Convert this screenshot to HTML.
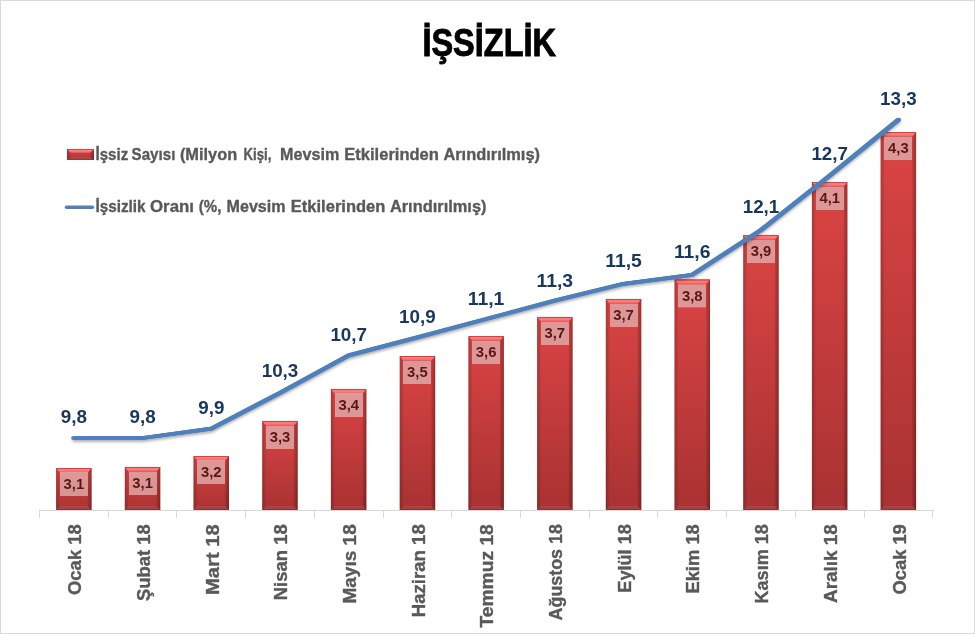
<!DOCTYPE html>
<html lang="tr"><head><meta charset="utf-8"><title>İŞSİZLİK</title>
<style>
html,body{margin:0;padding:0;background:#fff;}
body{width:975px;height:634px;overflow:hidden;font-family:"Liberation Sans",sans-serif;}
svg{display:block;}
text{font-family:"Liberation Sans",sans-serif;font-weight:bold;}
</style></head><body>
<svg width="975" height="634" viewBox="0 0 975 634">
<defs>
<linearGradient id="bg" x1="0" y1="0" x2="0" y2="1"><stop offset="0" stop-color="#DB4444"/><stop offset="1" stop-color="#A93232"/></linearGradient>
<linearGradient id="tg" x1="0" y1="0" x2="0" y2="1"><stop offset="0" stop-color="#DD3939"/><stop offset="0.18" stop-color="#E24444"/><stop offset="0.32" stop-color="#FB8484"/><stop offset="0.6" stop-color="#F77777"/><stop offset="1" stop-color="#E75151"/></linearGradient>
<linearGradient id="lg" x1="0" y1="0" x2="1" y2="0"><stop offset="0" stop-color="#000" stop-opacity="0.2"/><stop offset="1" stop-color="#000" stop-opacity="0.02"/></linearGradient>
<linearGradient id="rg" x1="0" y1="0" x2="1" y2="0"><stop offset="0" stop-color="#000" stop-opacity="0.08"/><stop offset="1" stop-color="#000" stop-opacity="0.3"/></linearGradient>
<linearGradient id="btg" x1="0" y1="0" x2="0" y2="1"><stop offset="0" stop-color="#999" stop-opacity="0.22"/><stop offset="0.7" stop-color="#777" stop-opacity="0.2"/><stop offset="1" stop-color="#300" stop-opacity="0.35"/></linearGradient>
<filter id="sh" x="-5%" y="-5%" width="110%" height="115%"><feGaussianBlur stdDeviation="1.6"/></filter>
</defs>
<rect x="0" y="0" width="975" height="634" fill="#fff"/>
<rect x="0.5" y="0.5" width="974" height="633" fill="none" stroke="#D9D9D9" stroke-width="1"/>
<text x="489.2" y="56.2" font-size="37.9" text-anchor="middle" fill="#000" stroke="#000" stroke-width="0.9" textLength="133.6" lengthAdjust="spacingAndGlyphs">İŞSİZLİK</text>
<rect x="67" y="149" width="27" height="11" fill="url(#bg)"/><polygon points="67,149 94,149 90,153 71,153" fill="url(#tg)"/><polygon points="94,149 94,160 90,157 90,153" fill="url(#rg)"/><polygon points="67,149 67,160 71,157 71,153" fill="url(#lg)"/><polygon points="67,160 94,160 90,157 71,157" fill="url(#btg)"/>
<text y="160" font-size="16.8" fill="#595959" stroke="#595959" stroke-width="0.35"><tspan x="95.5" textLength="32.7" lengthAdjust="spacingAndGlyphs">İşsiz</tspan> <tspan x="131.6" textLength="43.8" lengthAdjust="spacingAndGlyphs">Sayısı</tspan> <tspan x="179.9" textLength="57.3" lengthAdjust="spacingAndGlyphs">(Milyon</tspan> <tspan x="243.6" textLength="27.8" lengthAdjust="spacingAndGlyphs">Kişi,</tspan> <tspan x="280.0" textLength="59.3" lengthAdjust="spacingAndGlyphs">Mevsim</tspan> <tspan x="344.3" textLength="94.6" lengthAdjust="spacingAndGlyphs">Etkilerinden</tspan> <tspan x="443.4" textLength="96.6" lengthAdjust="spacingAndGlyphs">Arındırılmış)</tspan></text>
<line x1="66.5" y1="207.3" x2="92.5" y2="207.3" stroke="#4D80BC" stroke-width="3.4" stroke-linecap="round"/><text y="212" font-size="16.8" fill="#595959" stroke="#595959" stroke-width="0.35"><tspan x="95.5" textLength="50.1" lengthAdjust="spacingAndGlyphs">İşsizlik</tspan> <tspan x="150.0" textLength="44.0" lengthAdjust="spacingAndGlyphs">Oranı</tspan> <tspan x="198.8" textLength="22.6" lengthAdjust="spacingAndGlyphs">(%,</tspan> <tspan x="226.6" textLength="58.9" lengthAdjust="spacingAndGlyphs">Mevsim</tspan> <tspan x="290.8" textLength="94.6" lengthAdjust="spacingAndGlyphs">Etkilerinden</tspan> <tspan x="389.9" textLength="96.6" lengthAdjust="spacingAndGlyphs">Arındırılmış)</tspan></text>
<g stroke="#D9D9D9" stroke-width="1" shape-rendering="crispEdges"><line x1="39" y1="510.5" x2="933.5" y2="510.5"/><line x1="39.5" y1="510.5" x2="39.5" y2="518"/><line x1="108.5" y1="510.5" x2="108.5" y2="518"/><line x1="176.5" y1="510.5" x2="176.5" y2="518"/><line x1="245.5" y1="510.5" x2="245.5" y2="518"/><line x1="314.5" y1="510.5" x2="314.5" y2="518"/><line x1="383.5" y1="510.5" x2="383.5" y2="518"/><line x1="451.5" y1="510.5" x2="451.5" y2="518"/><line x1="520.5" y1="510.5" x2="520.5" y2="518"/><line x1="589.5" y1="510.5" x2="589.5" y2="518"/><line x1="657.5" y1="510.5" x2="657.5" y2="518"/><line x1="726.5" y1="510.5" x2="726.5" y2="518"/><line x1="795.5" y1="510.5" x2="795.5" y2="518"/><line x1="864.5" y1="510.5" x2="864.5" y2="518"/><line x1="932.5" y1="510.5" x2="932.5" y2="518"/></g>
<g><rect x="56.1" y="468.0" width="35.5" height="42.0" fill="url(#bg)"/><polygon points="56.1,468.0 91.6,468.0 87.6,473.0 60.1,473.0" fill="url(#tg)"/><polygon points="91.6,468.0 91.6,510.0 87.6,506.0 87.6,473.0" fill="url(#rg)"/><polygon points="56.1,468.0 56.1,510.0 60.1,506.0 60.1,473.0" fill="url(#lg)"/><polygon points="56.1,510.0 91.6,510.0 87.6,506.0 60.1,506.0" fill="url(#btg)"/><rect x="60.0" y="472.0" width="28" height="24" fill="#DEACAC" fill-opacity="0.8"/><text x="73.9" y="489.3" font-size="14" text-anchor="middle" fill="#5A1616" textLength="20.6" lengthAdjust="spacingAndGlyphs">3,1</text></g>
<g><rect x="124.8" y="467.0" width="35.5" height="43.0" fill="url(#bg)"/><polygon points="124.8,467.0 160.3,467.0 156.3,472.0 128.8,472.0" fill="url(#tg)"/><polygon points="160.3,467.0 160.3,510.0 156.3,506.0 156.3,472.0" fill="url(#rg)"/><polygon points="124.8,467.0 124.8,510.0 128.8,506.0 128.8,472.0" fill="url(#lg)"/><polygon points="124.8,510.0 160.3,510.0 156.3,506.0 128.8,506.0" fill="url(#btg)"/><rect x="129.0" y="472.0" width="28" height="23" fill="#DEACAC" fill-opacity="0.8"/><text x="142.6" y="488.3" font-size="14" text-anchor="middle" fill="#5A1616" textLength="20.6" lengthAdjust="spacingAndGlyphs">3,1</text></g>
<g><rect x="193.5" y="456.0" width="35.5" height="54.0" fill="url(#bg)"/><polygon points="193.5,456.0 229.0,456.0 225.0,461.0 197.5,461.0" fill="url(#tg)"/><polygon points="229.0,456.0 229.0,510.0 225.0,506.0 225.0,461.0" fill="url(#rg)"/><polygon points="193.5,456.0 193.5,510.0 197.5,506.0 197.5,461.0" fill="url(#lg)"/><polygon points="193.5,510.0 229.0,510.0 225.0,506.0 197.5,506.0" fill="url(#btg)"/><rect x="197.0" y="460.0" width="28" height="24" fill="#DEACAC" fill-opacity="0.8"/><text x="211.3" y="477.3" font-size="14" text-anchor="middle" fill="#5A1616" textLength="20.6" lengthAdjust="spacingAndGlyphs">3,2</text></g>
<g><rect x="262.2" y="421.0" width="35.5" height="89.0" fill="url(#bg)"/><polygon points="262.2,421.0 297.7,421.0 293.7,426.0 266.2,426.0" fill="url(#tg)"/><polygon points="297.7,421.0 297.7,510.0 293.7,506.0 293.7,426.0" fill="url(#rg)"/><polygon points="262.2,421.0 262.2,510.0 266.2,506.0 266.2,426.0" fill="url(#lg)"/><polygon points="262.2,510.0 297.7,510.0 293.7,506.0 266.2,506.0" fill="url(#btg)"/><rect x="266.0" y="426.0" width="28" height="23" fill="#DEACAC" fill-opacity="0.8"/><text x="280.0" y="442.3" font-size="14" text-anchor="middle" fill="#5A1616" textLength="20.6" lengthAdjust="spacingAndGlyphs">3,3</text></g>
<g><rect x="330.9" y="389.0" width="35.5" height="121.0" fill="url(#bg)"/><polygon points="330.9,389.0 366.4,389.0 362.4,394.0 334.9,394.0" fill="url(#tg)"/><polygon points="366.4,389.0 366.4,510.0 362.4,506.0 362.4,394.0" fill="url(#rg)"/><polygon points="330.9,389.0 330.9,510.0 334.9,506.0 334.9,394.0" fill="url(#lg)"/><polygon points="330.9,510.0 366.4,510.0 362.4,506.0 334.9,506.0" fill="url(#btg)"/><rect x="335.0" y="393.0" width="28" height="24" fill="#DEACAC" fill-opacity="0.8"/><text x="348.7" y="410.3" font-size="14" text-anchor="middle" fill="#5A1616" textLength="20.6" lengthAdjust="spacingAndGlyphs">3,4</text></g>
<g><rect x="399.7" y="356.0" width="35.5" height="154.0" fill="url(#bg)"/><polygon points="399.7,356.0 435.2,356.0 431.2,361.0 403.7,361.0" fill="url(#tg)"/><polygon points="435.2,356.0 435.2,510.0 431.2,506.0 431.2,361.0" fill="url(#rg)"/><polygon points="399.7,356.0 399.7,510.0 403.7,506.0 403.7,361.0" fill="url(#lg)"/><polygon points="399.7,510.0 435.2,510.0 431.2,506.0 403.7,506.0" fill="url(#btg)"/><rect x="403.0" y="361.0" width="28" height="23" fill="#DEACAC" fill-opacity="0.8"/><text x="417.4" y="377.3" font-size="14" text-anchor="middle" fill="#5A1616" textLength="20.6" lengthAdjust="spacingAndGlyphs">3,5</text></g>
<g><rect x="468.4" y="336.0" width="35.5" height="174.0" fill="url(#bg)"/><polygon points="468.4,336.0 503.9,336.0 499.9,341.0 472.4,341.0" fill="url(#tg)"/><polygon points="503.9,336.0 503.9,510.0 499.9,506.0 499.9,341.0" fill="url(#rg)"/><polygon points="468.4,336.0 468.4,510.0 472.4,506.0 472.4,341.0" fill="url(#lg)"/><polygon points="468.4,510.0 503.9,510.0 499.9,506.0 472.4,506.0" fill="url(#btg)"/><rect x="472.0" y="341.0" width="28" height="23" fill="#DEACAC" fill-opacity="0.8"/><text x="486.1" y="357.3" font-size="14" text-anchor="middle" fill="#5A1616" textLength="20.6" lengthAdjust="spacingAndGlyphs">3,6</text></g>
<g><rect x="537.1" y="317.0" width="35.5" height="193.0" fill="url(#bg)"/><polygon points="537.1,317.0 572.6,317.0 568.6,322.0 541.1,322.0" fill="url(#tg)"/><polygon points="572.6,317.0 572.6,510.0 568.6,506.0 568.6,322.0" fill="url(#rg)"/><polygon points="537.1,317.0 537.1,510.0 541.1,506.0 541.1,322.0" fill="url(#lg)"/><polygon points="537.1,510.0 572.6,510.0 568.6,506.0 541.1,506.0" fill="url(#btg)"/><rect x="541.0" y="322.0" width="28" height="23" fill="#DEACAC" fill-opacity="0.8"/><text x="554.8" y="338.3" font-size="14" text-anchor="middle" fill="#5A1616" textLength="20.6" lengthAdjust="spacingAndGlyphs">3,7</text></g>
<g><rect x="605.8" y="299.0" width="35.5" height="211.0" fill="url(#bg)"/><polygon points="605.8,299.0 641.3,299.0 637.3,304.0 609.8,304.0" fill="url(#tg)"/><polygon points="641.3,299.0 641.3,510.0 637.3,506.0 637.3,304.0" fill="url(#rg)"/><polygon points="605.8,299.0 605.8,510.0 609.8,506.0 609.8,304.0" fill="url(#lg)"/><polygon points="605.8,510.0 641.3,510.0 637.3,506.0 609.8,506.0" fill="url(#btg)"/><rect x="610.0" y="304.0" width="28" height="23" fill="#DEACAC" fill-opacity="0.8"/><text x="623.5" y="320.3" font-size="14" text-anchor="middle" fill="#5A1616" textLength="20.6" lengthAdjust="spacingAndGlyphs">3,7</text></g>
<g><rect x="674.5" y="279.4" width="35.5" height="230.6" fill="url(#bg)"/><polygon points="674.5,279.4 710.0,279.4 706.0,284.4 678.5,284.4" fill="url(#tg)"/><polygon points="710.0,279.4 710.0,510.0 706.0,506.0 706.0,284.4" fill="url(#rg)"/><polygon points="674.5,279.4 674.5,510.0 678.5,506.0 678.5,284.4" fill="url(#lg)"/><polygon points="674.5,510.0 710.0,510.0 706.0,506.0 678.5,506.0" fill="url(#btg)"/><rect x="678.0" y="284.4" width="28" height="23" fill="#DEACAC" fill-opacity="0.8"/><text x="692.2" y="300.7" font-size="14" text-anchor="middle" fill="#5A1616" textLength="20.6" lengthAdjust="spacingAndGlyphs">3,8</text></g>
<g><rect x="743.2" y="235.0" width="35.5" height="275.0" fill="url(#bg)"/><polygon points="743.2,235.0 778.7,235.0 774.7,240.0 747.2,240.0" fill="url(#tg)"/><polygon points="778.7,235.0 778.7,510.0 774.7,506.0 774.7,240.0" fill="url(#rg)"/><polygon points="743.2,235.0 743.2,510.0 747.2,506.0 747.2,240.0" fill="url(#lg)"/><polygon points="743.2,510.0 778.7,510.0 774.7,506.0 747.2,506.0" fill="url(#btg)"/><rect x="747.0" y="240.0" width="28" height="23" fill="#DEACAC" fill-opacity="0.8"/><text x="761.0" y="256.3" font-size="14" text-anchor="middle" fill="#5A1616" textLength="20.6" lengthAdjust="spacingAndGlyphs">3,9</text></g>
<g><rect x="811.9" y="182.0" width="35.5" height="328.0" fill="url(#bg)"/><polygon points="811.9,182.0 847.4,182.0 843.4,187.0 815.9,187.0" fill="url(#tg)"/><polygon points="847.4,182.0 847.4,510.0 843.4,506.0 843.4,187.0" fill="url(#rg)"/><polygon points="811.9,182.0 811.9,510.0 815.9,506.0 815.9,187.0" fill="url(#lg)"/><polygon points="811.9,510.0 847.4,510.0 843.4,506.0 815.9,506.0" fill="url(#btg)"/><rect x="816.0" y="187.0" width="28" height="23" fill="#DEACAC" fill-opacity="0.8"/><text x="829.7" y="203.3" font-size="14" text-anchor="middle" fill="#5A1616" textLength="20.6" lengthAdjust="spacingAndGlyphs">4,1</text></g>
<g><rect x="880.6" y="132.0" width="35.5" height="378.0" fill="url(#bg)"/><polygon points="880.6,132.0 916.1,132.0 912.1,137.0 884.6,137.0" fill="url(#tg)"/><polygon points="916.1,132.0 916.1,510.0 912.1,506.0 912.1,137.0" fill="url(#rg)"/><polygon points="880.6,132.0 880.6,510.0 884.6,506.0 884.6,137.0" fill="url(#lg)"/><polygon points="880.6,510.0 916.1,510.0 912.1,506.0 884.6,506.0" fill="url(#btg)"/><rect x="884.0" y="137.0" width="28" height="23" fill="#DEACAC" fill-opacity="0.8"/><text x="898.4" y="153.3" font-size="14" text-anchor="middle" fill="#5A1616" textLength="20.6" lengthAdjust="spacingAndGlyphs">4,3</text></g>
<g fill="none" stroke="#000" stroke-opacity="0.36" stroke-width="3.6" stroke-linecap="round" stroke-linejoin="round" filter="url(#sh)"><polyline points="73.9,438.0 142.6,438.0 211.3,428.7 280.0,392.8 348.7,355.4 417.4,337.4 486.1,319.0 554.8,300.6 623.5,283.8 692.2,274.8 761.0,230.0 829.7,175.6 898.4,119.8" transform="translate(0.2,2)"/></g>
<g fill="none" stroke="#4D80BC" stroke-width="3.7" stroke-linecap="round" stroke-linejoin="round"><polyline points="73.9,438.0 142.6,438.0 211.3,428.7 280.0,392.8 348.7,355.4 417.4,337.4 486.1,319.0 554.8,300.6 623.5,283.8 692.2,274.8 761.0,230.0 829.7,175.6 898.4,119.8" transform="translate(-0.9,0)"/><polyline points="73.9,438.0 142.6,438.0 211.3,428.7 280.0,392.8 348.7,355.4 417.4,337.4 486.1,319.0 554.8,300.6 623.5,283.8 692.2,274.8 761.0,230.0 829.7,175.6 898.4,119.8"/><polyline points="73.9,438.0 142.6,438.0 211.3,428.7 280.0,392.8 348.7,355.4 417.4,337.4 486.1,319.0 554.8,300.6 623.5,283.8 692.2,274.8 761.0,230.0 829.7,175.6 898.4,119.8" transform="translate(0.9,0)"/></g>
<text x="73.9" y="423.0" font-size="18.2" text-anchor="middle" fill="#17375E" textLength="26.2" lengthAdjust="spacingAndGlyphs">9,8</text>
<text x="142.6" y="423.0" font-size="18.2" text-anchor="middle" fill="#17375E" textLength="26.2" lengthAdjust="spacingAndGlyphs">9,8</text>
<text x="211.3" y="413.5" font-size="18.2" text-anchor="middle" fill="#17375E" textLength="26.2" lengthAdjust="spacingAndGlyphs">9,9</text>
<text x="280.0" y="377.0" font-size="18.2" text-anchor="middle" fill="#17375E" textLength="36.6" lengthAdjust="spacingAndGlyphs">10,3</text>
<text x="348.7" y="341.2" font-size="18.2" text-anchor="middle" fill="#17375E" textLength="36.6" lengthAdjust="spacingAndGlyphs">10,7</text>
<text x="417.4" y="323.3" font-size="18.2" text-anchor="middle" fill="#17375E" textLength="36.6" lengthAdjust="spacingAndGlyphs">10,9</text>
<text x="486.1" y="304.6" font-size="18.2" text-anchor="middle" fill="#17375E" textLength="36.6" lengthAdjust="spacingAndGlyphs">11,1</text>
<text x="554.8" y="286.7" font-size="18.2" text-anchor="middle" fill="#17375E" textLength="36.6" lengthAdjust="spacingAndGlyphs">11,3</text>
<text x="623.5" y="267.4" font-size="18.2" text-anchor="middle" fill="#17375E" textLength="36.6" lengthAdjust="spacingAndGlyphs">11,5</text>
<text x="692.2" y="258.4" font-size="18.2" text-anchor="middle" fill="#17375E" textLength="36.6" lengthAdjust="spacingAndGlyphs">11,6</text>
<text x="761.0" y="213.0" font-size="18.2" text-anchor="middle" fill="#17375E" textLength="36.6" lengthAdjust="spacingAndGlyphs">12,1</text>
<text x="829.7" y="160.0" font-size="18.2" text-anchor="middle" fill="#17375E" textLength="36.6" lengthAdjust="spacingAndGlyphs">12,7</text>
<text x="898.4" y="105.2" font-size="18.2" text-anchor="middle" fill="#17375E" textLength="36.6" lengthAdjust="spacingAndGlyphs">13,3</text>
<text transform="translate(81.1,524.2) rotate(-90)" font-size="18.5" text-anchor="end" fill="#595959" stroke="#595959" stroke-width="0.35" textLength="70.8" lengthAdjust="spacingAndGlyphs">Ocak 18</text>
<text transform="translate(149.8,524.2) rotate(-90)" font-size="18.5" text-anchor="end" fill="#595959" stroke="#595959" stroke-width="0.35" textLength="76.8" lengthAdjust="spacingAndGlyphs">Şubat 18</text>
<text transform="translate(218.5,524.2) rotate(-90)" font-size="18.5" text-anchor="end" fill="#595959" stroke="#595959" stroke-width="0.35" textLength="70.8" lengthAdjust="spacingAndGlyphs">Mart 18</text>
<text transform="translate(287.2,524.2) rotate(-90)" font-size="18.5" text-anchor="end" fill="#595959" stroke="#595959" stroke-width="0.35" textLength="76.1" lengthAdjust="spacingAndGlyphs">Nisan 18</text>
<text transform="translate(355.9,524.2) rotate(-90)" font-size="18.5" text-anchor="end" fill="#595959" stroke="#595959" stroke-width="0.35" textLength="79.4" lengthAdjust="spacingAndGlyphs">Mayıs 18</text>
<text transform="translate(424.6,524.2) rotate(-90)" font-size="18.5" text-anchor="end" fill="#595959" stroke="#595959" stroke-width="0.35" textLength="93.1" lengthAdjust="spacingAndGlyphs">Haziran 18</text>
<text transform="translate(493.3,524.2) rotate(-90)" font-size="18.5" text-anchor="end" fill="#595959" stroke="#595959" stroke-width="0.35" textLength="103.4" lengthAdjust="spacingAndGlyphs">Temmuz 18</text>
<text transform="translate(562.0,524.2) rotate(-90)" font-size="18.5" text-anchor="end" fill="#595959" stroke="#595959" stroke-width="0.35" textLength="96.2" lengthAdjust="spacingAndGlyphs">Ağustos 18</text>
<text transform="translate(630.7,524.2) rotate(-90)" font-size="18.5" text-anchor="end" fill="#595959" stroke="#595959" stroke-width="0.35" textLength="68.5" lengthAdjust="spacingAndGlyphs">Eylül 18</text>
<text transform="translate(699.4,524.2) rotate(-90)" font-size="18.5" text-anchor="end" fill="#595959" stroke="#595959" stroke-width="0.35" textLength="69.4" lengthAdjust="spacingAndGlyphs">Ekim 18</text>
<text transform="translate(768.2,524.2) rotate(-90)" font-size="18.5" text-anchor="end" fill="#595959" stroke="#595959" stroke-width="0.35" textLength="79.3" lengthAdjust="spacingAndGlyphs">Kasım 18</text>
<text transform="translate(836.9,524.2) rotate(-90)" font-size="18.5" text-anchor="end" fill="#595959" stroke="#595959" stroke-width="0.35" textLength="78.7" lengthAdjust="spacingAndGlyphs">Aralık 18</text>
<text transform="translate(905.6,524.2) rotate(-90)" font-size="18.5" text-anchor="end" fill="#595959" stroke="#595959" stroke-width="0.35" textLength="70.3" lengthAdjust="spacingAndGlyphs">Ocak 19</text>
</svg>
</body></html>
